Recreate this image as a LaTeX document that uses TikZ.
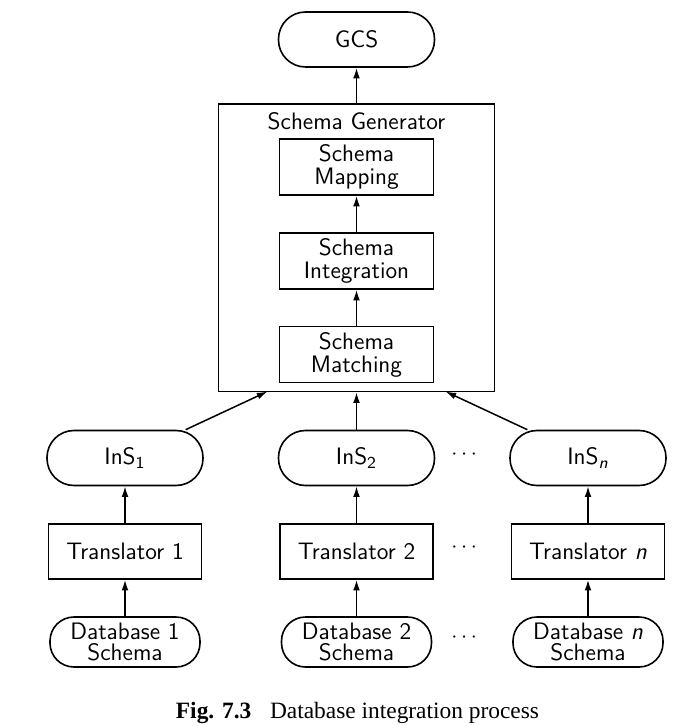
\documentclass[tikz,border=0pt]{standalone}
\usepackage{amsmath}
\usepackage{fontspec}
\newfontfamily\capfont{Liberation Serif}
\usetikzlibrary{arrows.meta}
\begin{document}
\begin{tikzpicture}[x=0.5pt,y=-0.5pt,
  every node/.style={font=\sffamily\fontsize{11.9}{11.5}\selectfont, inner sep=0pt, line width=0.8pt},
  term/.style={draw, rounded corners=13.5pt, minimum width=78pt, minimum height=27.5pt},
  dbterm/.style={draw, rounded corners=12pt, minimum width=75pt, minimum height=25pt, align=center, font=\sffamily\fontsize{11.9}{10.4}\selectfont},
  procbox/.style={draw, minimum width=76.5pt, minimum height=27.5pt},
  inbox/.style={draw, minimum width=77pt, minimum height=28pt, align=center},
  arr/.style={-{Latex[length=5.3pt,width=3.4pt]}, line width=0.75pt},
  dotsnode/.style={font=\fontsize{11.2}{11}\selectfont}
]
\useasboundingbox (0,0) rectangle (691,726);

% top
\node[term] (gcs) at (356.5,39.5) {GCS};

% schema generator
\node[draw, minimum width=138pt, minimum height=143.75pt] (gen) at (356.5,247.75) {};
\node[anchor=base] (gentitle) at (356.5,129.5) {Schema Generator};
\node[inbox] (map) at (356.5,167) {Schema\\Mapping};
\node[inbox] (integ) at (356.5,261) {Schema\\Integration};
\node[inbox] (match) at (356.5,354.5) {Schema\\Matching};

% intermediate schemas
\node[term] (ins1) at (125,458) {InS$_{\text{1}}$};
\node[term] (ins2) at (356.5,458) {InS$_{\text{2}}$};
\node[term] (insn) at (588,458) {InS$_{\text{\itshape n}}$};

% translators
\node[procbox] (tr1) at (125,551.5) {Translator 1};
\node[procbox] (tr2) at (356.5,551.5) {Translator 2};
\node[procbox] (trn) at (588,551.5) {Translator {\itshape n}};

% databases
\node[dbterm] (db1) at (125,642) {Database 1\\Schema};
\node[dbterm] (db2) at (356.5,642) {Database 2\\Schema};
\node[dbterm] (dbn) at (588,642) {Database {\itshape n}\\Schema};

% dots
\node[dotsnode] (d1) at (466,455) {$\cdots$};
\node[dotsnode] (d2) at (466,548) {$\cdots$};
\node[dotsnode] (d3) at (466,638) {$\cdots$};

% caption
\node[anchor=base, font=\capfont\fontsize{11.7}{12}\selectfont] (cap) at (357.5,718) {\textbf{Fig. 7.3}\hspace{0.8em}Database integration process};

% connectors
\coordinate (genL) at (267.5,391.5);
\coordinate (genR) at (445.5,391.5);
\draw[arr] (gen.north) -- (gcs.south);
\draw[arr] (match) -- (integ);
\draw[arr] (integ) -- (map);
\draw[arr] (ins1) -- (genL);
\draw[arr] (ins2) -- (gen.south);
\draw[arr] (insn) -- (genR);
\draw[arr] (tr1) -- (ins1);
\draw[arr] (tr2) -- (ins2);
\draw[arr] (trn) -- (insn);
\draw[arr] (db1) -- (tr1);
\draw[arr] (db2) -- (tr2);
\draw[arr] (dbn) -- (trn);
\end{tikzpicture}
\end{document}
